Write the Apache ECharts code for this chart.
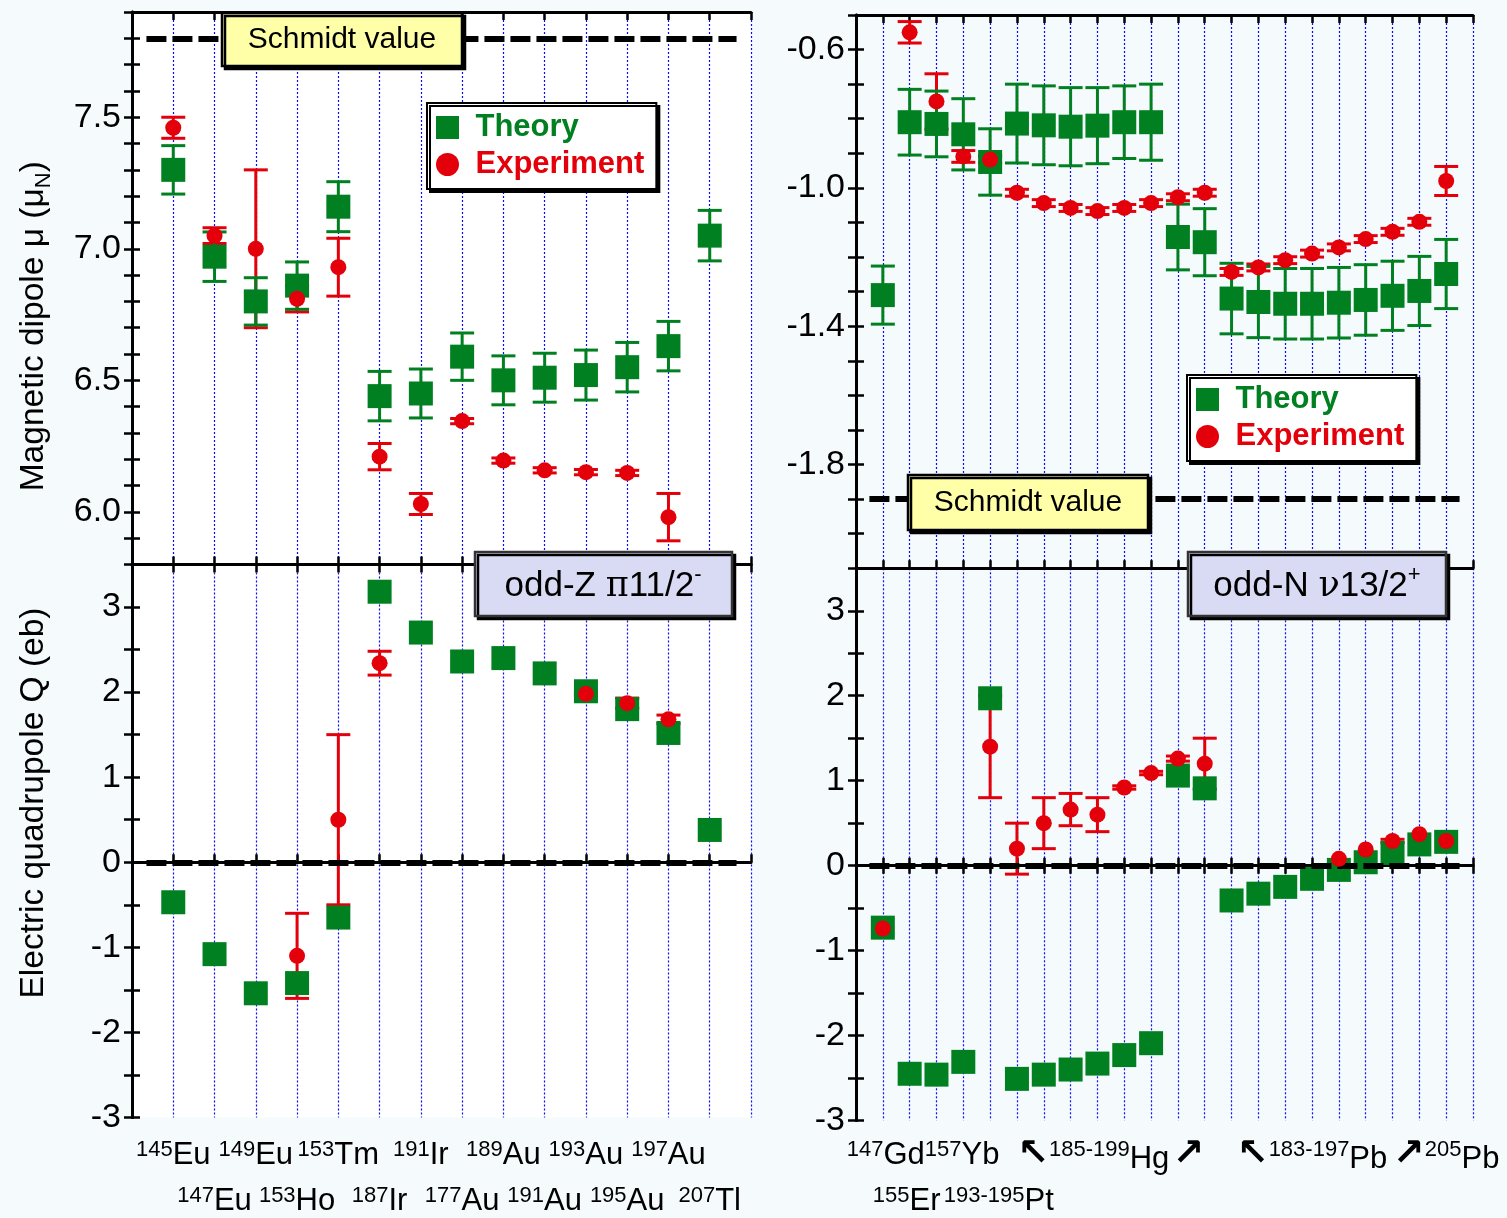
<!DOCTYPE html>
<html><head><meta charset="utf-8">
<script src="https://cdn.jsdelivr.net/npm/echarts@6/dist/echarts.min.js"></script>
<style>html,body{margin:0;padding:0;background:#f5fafc;}#c{width:1507px;height:1218px;}</style>
</head><body><div id="c"></div><script>
// ---------- odd-Z (left) ----------
const massL = ['145','147','149','153','153','187','191','177','189','191','193','195','197','207'];
const elemL = ['Eu','Eu','Eu','Ho','Tm','Ir','Ir','Au','Au','Au','Au','Au','Au','Tl'];
const muTheoryL    = [7.30, 6.97, 6.80, 6.86, 7.16, 6.44, 6.45, 6.59, 6.50, 6.51, 6.52, 6.55, 6.63, 7.05];
const muTheoryErrL = [0.092,0.094,0.09,0.09,0.095,0.094,0.093,0.09,0.093,0.093,0.095,0.094,0.094,0.096];
const muExpL       = [7.46, 7.05, 7.00, 6.81, 6.93, 6.21, 6.03, 6.345, 6.195, 6.158, 6.151, 6.148, 5.98, null];
const muExpErrL    = [0.04, 0.03, 0.30, 0.05, 0.11, 0.05, 0.04, 0.01, 0.01, 0.01, 0.01, 0.01, 0.09, null];
const qTheoryL     = [-0.47, -1.08, -1.54, -1.42, -0.65, 3.18, 2.70, 2.36, 2.40, 2.22, 2.01, 1.80, 1.52, 0.38];
const qExpL        = [null, null, null, -1.10, 0.50, 2.34, null, null, null, null, 1.98, 1.87, 1.68, null];
const qExpErrL     = [null, null, null, 0.50, 1.00, 0.14, null, null, null, null, 0.02, 0.06, 0.05, null];
const schmidtL = 7.8;

// ---------- odd-N (right) ----------
const muTheoryR    = [-1.31,-0.81,-0.815,-0.845,-0.925,-0.814,-0.819,-0.823,-0.82,-0.81,-0.81,-1.142,-1.157,-1.32,-1.33,-1.335,-1.335,-1.332,-1.324,-1.312,-1.298,-1.249];
const muTheoryErrR = [0.084,0.095,0.095,0.103,0.096,0.114,0.114,0.113,0.11,0.105,0.11,0.095,0.097,0.102,0.103,0.102,0.102,0.102,0.102,0.10,0.10,0.10];
const muExpR       = [null,-0.55,-0.75,-0.909,-0.918,-1.014,-1.044,-1.058,-1.067,-1.058,-1.044,-1.027,-1.014,-1.243,-1.23,-1.209,-1.19,-1.172,-1.148,-1.127,-1.098,-0.98];
const muExpErrR    = [null,0.031,0.08,0.017,0.01,0.01,0.01,0.01,0.01,0.01,0.01,0.01,0.01,0.01,0.01,0.01,0.01,0.01,0.01,0.01,0.01,0.042];
const qTheoryR     = [-0.73,-2.45,-2.46,-2.31,1.97,-2.51,-2.46,-2.40,-2.33,-2.23,-2.09,1.06,0.91,-0.41,-0.33,-0.25,-0.155,-0.05,0.04,0.15,0.25,0.28];
const qExpR        = [-0.74,null,null,null,1.40,0.20,0.50,0.66,0.60,0.92,1.09,1.26,1.20,null,null,null,null,0.08,0.19,0.29,0.37,0.29];
const qExpErrR     = [null,null,null,null,0.60,0.30,0.30,0.19,0.20,0.02,0.02,0.03,0.30,null,null,null,null,null,null,0.02,null,null];
const schmidtR = -1.9;

// bottom labels of the right panel (position on axis -> rich label)
const rightRow1Pos  = [2.5, 9.5, 17, 22];
const rightRow1Text = ['{s|147}{n|Gd}{s|157}{n|Yb}', '{a|↖}{s|185-199}{n|Hg} {a|↗}', '{a|↖}{s|183-197}{n|Pb}', '{a|↗}{s|205}{n|Pb}'];
const rightRow2Pos  = [4];
const rightRow2Text = ['{s|155}{n|Er} {s|193-195}{n|Pt}'];

const FONT = '"Liberation Sans", Arial, Helvetica, sans-serif';
const GREEN = '#008020', RED = '#e3000b';

const richLbl = {
  s: {fontSize: 22, lineHeight: 22, verticalAlign: 'top', fontFamily: FONT, color: '#000'},
  n: {fontSize: 31, lineHeight: 32, verticalAlign: 'bottom', fontFamily: FONT, color: '#000'},
  a: {fontSize: 38, lineHeight: 36, verticalAlign: 'bottom', fontFamily: '"DejaVu Sans"', fontWeight: 'bold', color: '#000'}
};

const grids = [
  {left: 132, top: 12, width: 619, height: 552.5, show: true, backgroundColor: '#ffffff', borderWidth: 0, outerBoundsMode: 'none'},
  {left: 132, top: 564.5, width: 619, height: 553, show: true, backgroundColor: '#ffffff', borderWidth: 0, outerBoundsMode: 'none'},
  {left: 856, top: 15, width: 617, height: 553.3, show: false, outerBoundsMode: 'none'},
  {left: 856, top: 568.3, width: 617, height: 552.2, show: false, outerBoundsMode: 'none'}
];

const lineAx = {show: true, lineStyle: {color: '#000', width: 3}};
const tickAx = {show: true, inside: true, length: 8, lineStyle: {color: '#000', width: 2.5}};
const splitX = {show: true, lineStyle: {color: '#0a0aff', width: 1.2, type: [2, 2]}};
const noSplit = {show: false};

function xAx(grid, max, pos, opts) {
  return Object.assign({type: 'value', gridIndex: grid, min: 0, max: max, interval: 1, position: pos,
    axisLine: lineAx, axisTick: tickAx, splitLine: noSplit, axisLabel: {show: false}}, opts || {});
}
function labelAx(grid, max, interval, margin, fmt) {
  return {type: 'value', gridIndex: grid, min: 0, max: max, interval: interval, position: 'bottom',
    axisLine: {show: false}, axisTick: {show: false}, splitLine: noSplit,
    axisLabel: {show: true, margin: margin, formatter: fmt, rich: richLbl, hideOverlap: false}};
}
function isInt(v) { return Math.abs(v - Math.round(v)) < 1e-6; }
function leftFmt(parity) {
  return function (v) {
    if (!isInt(v)) return '';
    const i = Math.round(v) - 1;
    if (i < 0 || i >= massL.length || i % 2 !== parity) return '';
    return '{s|' + massL[i] + '}{n|' + elemL[i] + '}';
  };
}
function posFmt(pos, txt) {
  return function (v) {
    for (let k = 0; k < pos.length; k++) if (Math.abs(v - pos[k]) < 1e-6) return txt[k];
    return '';
  };
}

const xAxes = [
  xAx(0, 15, 'bottom', {splitLine: splitX}),                 // 0
  xAx(0, 15, 'top'),                                          // 1
  xAx(1, 15, 'bottom', {splitLine: splitX}),                 // 2
  labelAx(1, 15, 1, 21, leftFmt(0)),                          // 3
  labelAx(1, 15, 1, 67, leftFmt(1)),                          // 4
  xAx(1, 15, 'top'),                                          // 5
  xAx(2, 23, 'bottom', {splitLine: splitX}),                 // 6
  xAx(2, 23, 'top'),                                          // 7
  xAx(3, 23, 'bottom', {splitLine: splitX}),                 // 8
  xAx(3, 23, 'top'),                                          // 9
  labelAx(3, 23, 0.5, 18, posFmt(rightRow1Pos, rightRow1Text)),// 10
  labelAx(3, 23, 0.5, 64, posFmt(rightRow2Pos, rightRow2Text))// 11
];

const tickLbl = {show: true, fontSize: 34, color: '#000', fontFamily: FONT, margin: 11};
function yAx(grid, min, max, interval, fmt, name, nameRich) {
  const o = {type: 'value', gridIndex: grid, min: min, max: max, interval: interval, position: 'left',
    axisLine: lineAx, axisTick: tickAx, splitLine: noSplit,
    axisLabel: Object.assign({}, tickLbl, {formatter: fmt})};
  if (name) {
    o.name = name; o.nameLocation = 'middle'; o.nameGap = 77;
    o.nameTextStyle = {fontSize: 33.5, color: '#000', fontFamily: FONT, rich: nameRich || {}};
  }
  return o;
}
function yAxR(grid, min, max, interval) {
  return {type: 'value', gridIndex: grid, min: min, max: max, interval: interval, position: 'right',
    axisLine: lineAx, axisTick: tickAx, splitLine: noSplit, axisLabel: {show: false}};
}
const fmtMuL = v => (Math.abs(v * 2 - Math.round(v * 2)) < 1e-6) ? v.toFixed(1) : '';
const fmtQ = v => isInt(v) ? String(Math.round(v)) : '';
const fmtMuR = v => { const k = (v + 0.6) / 0.4; return (isInt(k) && v < -0.59 && v > -1.81) ? v.toFixed(1) : ''; };

const nameRich = {
  t: {fontSize: 33.5, lineHeight: 38, verticalAlign: 'top', fontFamily: FONT, color: '#000'},
  b: {fontSize: 22, lineHeight: 22, verticalAlign: 'bottom', fontFamily: FONT, color: '#000'},
  p: {width: 76}
};
const yAxes = [
  yAx(0, 5.8, 7.9, 0.1, fmtMuL, '{t|Magnetic dipole μ (μ}{b|N}{t|)}{p|}', nameRich), // 0
  yAxR(0, 5.8, 7.9, 0.1),                                                           // 1
  yAx(1, -3, 3.5, 0.5, fmtQ, '{p|}{t|Electric quadrupole Q (eb)}', nameRich),       // 2
  yAxR(1, -3, 3.5, 0.5),                                                            // 3
  yAx(2, -2.1, -0.5, 0.1, fmtMuR),                                                  // 4
  yAxR(2, -2.1, -0.5, 0.1),                                                         // 5
  yAx(3, -3, 3.5, 0.5, fmtQ),                                                       // 6
  yAxR(3, -3, 3.5, 0.5)                                                             // 7
];

function pts(vals) {
  const d = [];
  vals.forEach((v, i) => { if (v != null) d.push([i + 1, v]); });
  return d;
}
function errSeries(name, xi, yi, vals, errs, color, z) {
  const data = [];
  vals.forEach((v, i) => { if (v != null && errs[i] != null) data.push([i + 1, v - errs[i], v + errs[i]]); });
  return {type: 'custom', name: name, xAxisIndex: xi, yAxisIndex: yi, z: z, silent: true, clip: false,
    encode: {x: 0, y: [1, 2]}, data: data,
    renderItem: function (params, api) {
      const x = api.value(0);
      const lo = api.coord([x, api.value(1)]);
      const hi = api.coord([x, api.value(2)]);
      const hw = 12;
      const st = {stroke: color, lineWidth: 3, fill: null};
      return {type: 'group', children: [
        {type: 'line', shape: {x1: lo[0], y1: lo[1], x2: hi[0], y2: hi[1]}, style: st},
        {type: 'line', shape: {x1: lo[0] - hw, y1: lo[1], x2: lo[0] + hw, y2: lo[1]}, style: st},
        {type: 'line', shape: {x1: hi[0] - hw, y1: hi[1], x2: hi[0] + hw, y2: hi[1]}, style: st}
      ]};
    }};
}
function refLine(x0, x1, y) {
  return {silent: true, symbol: 'none', label: {show: false},
    lineStyle: {color: '#000', width: 6, type: [20, 6]},
    data: [[{coord: [x0, y]}, {coord: [x1, y]}]]};
}
function theory(xi, yi, vals, ml) {
  const s = {type: 'scatter', name: 'Theory', xAxisIndex: xi, yAxisIndex: yi, z: 4, symbol: 'rect', symbolSize: 24,
    itemStyle: {color: GREEN, opacity: 1}, data: pts(vals), silent: true};
  if (ml) s.markLine = ml;
  return s;
}
function expt(xi, yi, vals) {
  return {type: 'scatter', name: 'Experiment', xAxisIndex: xi, yAxisIndex: yi, z: 5, symbol: 'circle', symbolSize: 16,
    itemStyle: {color: RED, opacity: 1}, data: pts(vals), silent: true};
}

const series = [
  // left top
  errSeries('mu err exp L', 0, 0, muExpL, muExpErrL, RED, 2),
  errSeries('mu err th L', 0, 0, muTheoryL, muTheoryErrL, GREEN, 3),
  theory(0, 0, muTheoryL, refLine(0.35, 14.65, schmidtL)),
  expt(0, 0, muExpL),
  // left bottom
  errSeries('q err exp L', 2, 2, qExpL, qExpErrL, RED, 2),
  theory(2, 2, qTheoryL, refLine(0.35, 14.65, 0)),
  expt(2, 2, qExpL),
  // right top
  errSeries('mu err exp R', 6, 4, muExpR, muExpErrR, RED, 2),
  errSeries('mu err th R', 6, 4, muTheoryR, muTheoryErrR, GREEN, 3),
  theory(6, 4, muTheoryR, refLine(0.5, 22.5, schmidtR)),
  expt(6, 4, muExpR),
  // right bottom
  errSeries('q err exp R', 8, 6, qExpR, qExpErrR, RED, 2),
  theory(8, 6, qTheoryR, refLine(0.5, 22.5, 0)),
  expt(8, 6, qExpR)
];

function legend(left, top) {
  return {show: true, left: left, top: top, orient: 'vertical', padding: [9, 12, 9, 9], itemGap: 6,
    itemWidth: 46, itemHeight: 23, symbolKeepAspect: true,
    backgroundColor: '#ffffff', borderColor: '#000', borderWidth: 2,
    shadowColor: '#000', shadowOffsetX: 3, shadowOffsetY: 3, shadowBlur: 0,
    selectedMode: false,
    textStyle: {fontSize: 31, fontWeight: 'bold', fontFamily: FONT},
    data: [
      {name: 'Theory', icon: 'path://M0,0L10,0L10,10L0,10Z', itemStyle: {color: GREEN}, textStyle: {color: GREEN}},
      {name: 'Experiment', icon: 'circle', itemStyle: {color: RED}, textStyle: {color: RED}}
    ]};
}

function box(x, y, w, h, fill, stroke) {
  return {type: 'rect', z: 100, shape: {x: x, y: y, width: w, height: h},
    style: {fill: fill, stroke: stroke, lineWidth: 2.5, shadowColor: '#000', shadowOffsetX: 3, shadowOffsetY: 3, shadowBlur: 0}};
}
function txt(x, y, text, rich) {
  return {type: 'text', z: 101, x: x, y: y,
    style: {text: text, fontSize: 30, fontFamily: FONT, fill: '#000', align: 'center', verticalAlign: 'middle', rich: rich || undefined}};
}
const boxRich = {
  m: {fontSize: 35, fontFamily: FONT, color: '#000', lineHeight: 40, verticalAlign: 'bottom'},
  g: {fontSize: 35, fontFamily: '"DejaVu Serif", serif', color: '#000', lineHeight: 40, verticalAlign: 'bottom'},
  u: {fontSize: 22, fontFamily: FONT, color: '#000', lineHeight: 22, verticalAlign: 'top'}
};

const option = {
  backgroundColor: '#f5fafc',
  animation: false,
  textStyle: {fontFamily: FONT},
  grid: grids,
  xAxis: xAxes,
  yAxis: yAxes,
  legend: [legend(427, 103), legend(1187, 375)],
  series: series,
  graphic: [
    box(222, 13, 240, 53, '#ffffa8', '#000'),
    txt(342, 39.5, 'Schmidt value'),
    box(908, 475, 240, 55, '#ffffa8', '#000'),
    txt(1028, 502.5, 'Schmidt value'),
    box(475, 552, 257, 64, '#d9dbf5', '#333'),
    txt(603, 584, '{m|odd-Z }{g|π}{m|11/2}{u|-}', boxRich),
    box(1188, 552, 258, 64, '#d9dbf5', '#333'),
    txt(1317, 584, '{m|odd-N }{g|ν}{m|13/2}{u|+}', boxRich)
  ]
};
const chart = echarts.init(document.getElementById('c'), null, {renderer: 'canvas'});
chart.setOption(option);
</script></body></html>
